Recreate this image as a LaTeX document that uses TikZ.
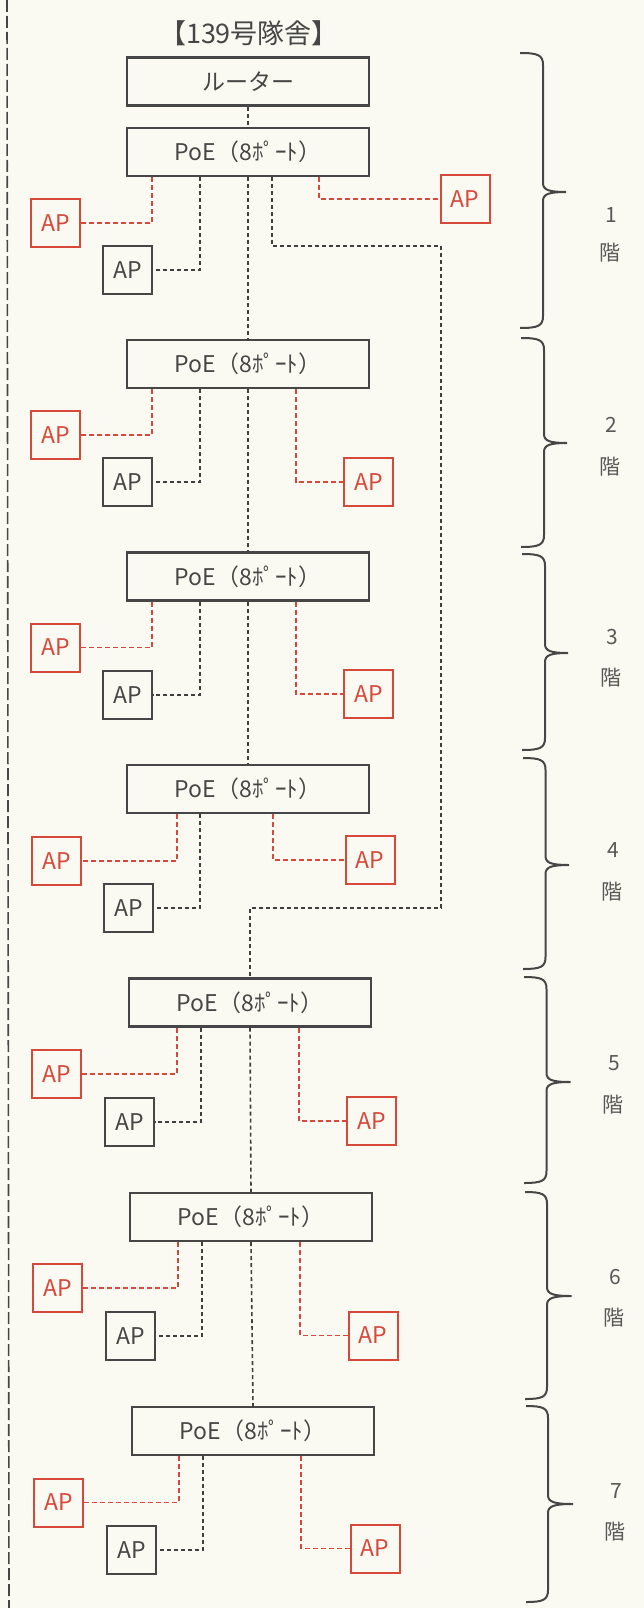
\documentclass[tikz,border=0pt]{standalone}
\usepackage{fontspec}
\setmainfont{Noto Sans CJK JP}
\definecolor{ink}{RGB}{70,70,70}
\definecolor{redap}{RGB}{214,72,58}
\definecolor{paper}{RGB}{251,250,242}
\begin{document}
\begin{tikzpicture}[x=1pt,y=-1pt,
  poebox/.style={draw=ink,line width=2.2pt,minimum width=242pt,minimum height=48pt,inner sep=0pt,text=ink,font=\fontsize{23}{26}\selectfont},
  apbase/.style={line width=2pt,minimum width=49pt,minimum height=48pt,inner sep=0pt,font=\fontsize{23}{26}\selectfont},
  apr/.style={apbase,draw=redap,text=redap},
  apk/.style={apbase,draw=ink,text=ink},
  bc/.style={draw=ink!90!black,line width=1.6pt,dash pattern=on 4pt off 3pt},
  rc/.style={draw=redap,line width=1.6pt,dash pattern=on 5pt off 3pt},
  brc/.style={draw=ink,line width=2pt},
  flr/.style={text=ink!90,font=\fontsize{21}{24}\selectfont,inner sep=0pt}]
\fill[paper] (0,0) rectangle (644,1608);
\useasboundingbox (0,0) rectangle (644,1608);
% left page border
\draw[draw=ink,line width=1.6pt,dash pattern=on 12pt off 4pt] (7,0) coordinate (lt) -- (9,1608) coordinate (lb);
% title
\node[text=ink,font=\fontsize{27}{30}\selectfont] (title) at (249,33) {【139号隊舎】};
% boxes
\node[poebox] (rt) at (248,81.5) {ルーター};
\node[poebox] (p1) at (248,152) {PoE（8ﾎﾟｰﾄ）};
\node[poebox] (p2) at (248,364) {PoE（8ﾎﾟｰﾄ）};
\node[poebox] (p3) at (248,576.5) {PoE（8ﾎﾟｰﾄ）};
\node[poebox] (p4) at (248,789) {PoE（8ﾎﾟｰﾄ）};
\node[poebox] (p5) at (250,1002.5) {PoE（8ﾎﾟｰﾄ）};
\node[poebox] (p6) at (251,1217) {PoE（8ﾎﾟｰﾄ）};
\node[poebox] (p7) at (253,1431) {PoE（8ﾎﾟｰﾄ）};
% APs floor 1
\node[apr] (a1l) at (55.5,223) {AP};
\node[apk] (a1k) at (127.5,270) {AP};
\node[apr] (a1r) at (465,199) {AP};
% floor 2
\node[apr] (a2l) at (55.5,435) {AP};
\node[apk] (a2k) at (127.5,482) {AP};
\node[apr] (a2r) at (368.5,482) {AP};
% floor 3
\node[apr] (a3l) at (55.5,647.5) {AP};
\node[apk] (a3k) at (127.5,695) {AP};
\node[apr] (a3r) at (368.5,694) {AP};
% floor 4
\node[apr] (a4l) at (56.5,861) {AP};
\node[apk] (a4k) at (128.5,908) {AP};
\node[apr] (a4r) at (370,860) {AP};
% floor 5
\node[apr] (a5l) at (56.5,1074) {AP};
\node[apk] (a5k) at (129.5,1122) {AP};
\node[apr] (a5r) at (371.5,1121) {AP};
% floor 6
\node[apr] (a6l) at (57.5,1288) {AP};
\node[apk] (a6k) at (130.5,1336) {AP};
\node[apr] (a6r) at (373,1335.5) {AP};
% floor 7
\node[apr] (a7l) at (58.5,1502.5) {AP};
\node[apk] (a7k) at (131.5,1550) {AP};
\node[apr] (a7r) at (375,1548.5) {AP};
% trunk
\draw[bc] (rt.south) -- (p1.north);
\draw[bc] (p1.south) -- (p2.north);
\draw[bc] (p2.south) -- (p3.north);
\draw[bc] (p3.south) -- (p4.north);
\draw[bc] (p5.south) -- (p6.north);
\draw[bc] (p6.south) -- (p7.north);
\draw[bc] (p1.south -| 272,0) |- (441,246) |- (250,908) -- (p5.north);
% floor 1
\draw[rc] (p1.south -| 152,0) |- (a1l.east);
\draw[bc] (p1.south -| 200,0) |- (a1k.east);
\draw[rc] (p1.south -| 319,0) |- (a1r.west);
% floor 2
\draw[rc] (p2.south -| 152,0) |- (a2l.east);
\draw[bc] (p2.south -| 200,0) |- (a2k.east);
\draw[rc] (p2.south -| 296,0) |- (a2r.west);
% floor 3
\draw[rc] (p3.south -| 152,0) |- (a3l.east);
\draw[bc] (p3.south -| 200,0) |- (a3k.east);
\draw[rc] (p3.south -| 296,0) |- (a3r.west);
% floor 4
\draw[rc] (p4.south -| 177,0) |- (a4l.east);
\draw[bc] (p4.south -| 200,0) |- (a4k.east);
\draw[rc] (p4.south -| 273,0) |- (a4r.west);
% floor 5
\draw[rc] (p5.south -| 177,0) |- (a5l.east);
\draw[bc] (p5.south -| 201,0) |- (a5k.east);
\draw[rc] (p5.south -| 299,0) |- (a5r.west);
% floor 6
\draw[rc] (p6.south -| 178,0) |- (a6l.east);
\draw[bc] (p6.south -| 202,0) |- (a6k.east);
\draw[rc] (p6.south -| 300,0) |- (a6r.west);
% floor 7
\draw[rc] (p7.south -| 179,0) |- (a7l.east);
\draw[bc] (p7.south -| 203,0) |- (a7k.east);
\draw[rc] (p7.south -| 301,0) |- (a7r.west);
% braces: x0 xv xt T M B, label x, number y, kai y
\foreach \xa/\xv/\xt/\T/\M/\B/\n/\lx/\ny/\ky in {
  520/543/566/53/192/328/1/611/215/253,
  521/544/567/338/443/547/2/611/425/467,
  522/545/568/554/653/750/3/612/637/678,
  523/545.5/569/758/865/969/4/613/850/892,
  524/546.5/570.5/977/1082/1183/5/614/1063/1105,
  525/547/571.5/1192/1296/1399/6/615/1277/1318,
  526/548/573/1406/1504/1602/7/616/1491/1532}{
  \draw[brc] (\xa,\T) .. controls (\xv-5,\T) and (\xv,\T+2) .. (\xv,\T+12)
    -- (\xv,\M-9) .. controls (\xv,\M-2) and (\xv+6,\M) .. (\xt,\M)
    .. controls (\xv+6,\M) and (\xv,\M+2) .. (\xv,\M+9)
    -- (\xv,\B-12) .. controls (\xv,\B-2) and (\xv-5,\B) .. (\xa,\B);
  \node[flr] (fn\n) at (\lx,\ny) {\n};
  \node[flr] (fk\n) at (\lx-1,\ky) {階};
}
\end{tikzpicture}
\end{document}
